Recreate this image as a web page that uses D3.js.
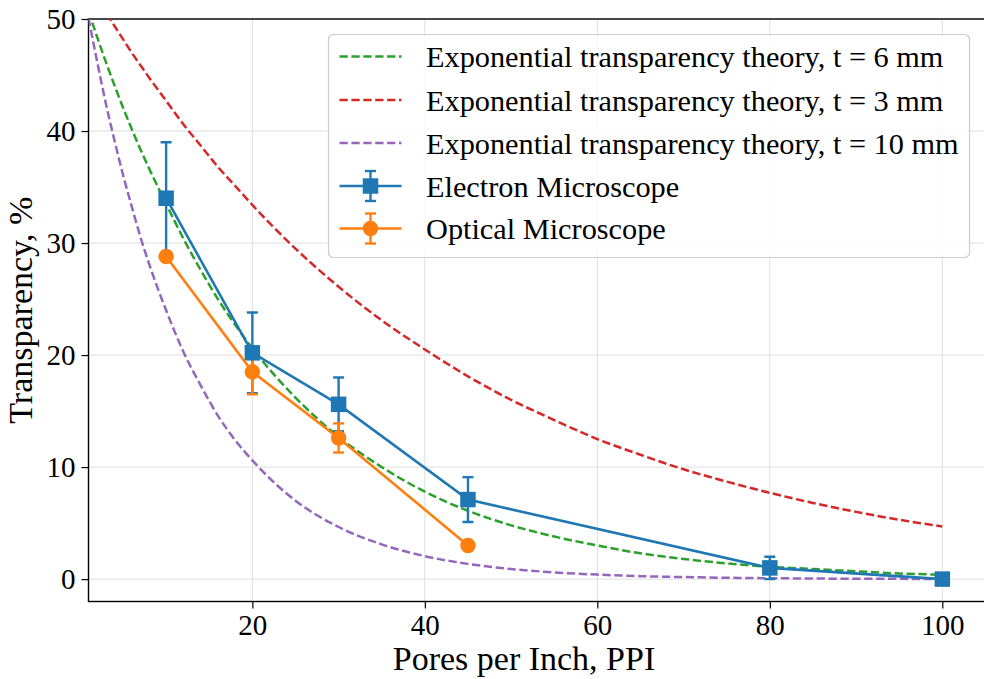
<!DOCTYPE html>
<html>
<head>
<meta charset="utf-8">
<script src="https://cdn.jsdelivr.net/npm/d3@7/dist/d3.min.js"></script>
<style>
  html, body { margin: 0; padding: 0; background: #ffffff; }
  svg { display: block; }
  text { font-family: "Liberation Serif", "Times New Roman", serif; fill: #000; }
</style>
</head>
<body>
<svg id="chart" width="984" height="679"></svg>
<script>
// Theory curves, sampled along the PPI axis
const ppiTheory   = [1, 2, 3, 4, 5, 6, 7, 8, 10, 12, 14, 16, 18, 20, 25, 30, 35, 40, 45, 50, 55, 60, 65, 70, 75, 80, 85, 90, 95, 100];
const theory6mm   = [50.7, 48.4, 46.2, 44.1, 42.1, 40.2, 38.4, 36.7, 33.5, 30.4, 27.6, 25.0, 22.7, 20.6, 16.2, 12.7, 10.0, 7.8, 6.1, 4.8, 3.8, 3.0, 2.3, 1.8, 1.4, 1.1, 0.9, 0.7, 0.5, 0.4];
const theory3mm   = [53.2, 51.9, 50.6, 49.4, 48.2, 47.0, 45.9, 44.8, 42.7, 40.6, 38.7, 36.8, 35.1, 33.4, 29.5, 26.1, 23.1, 20.5, 18.1, 16.0, 14.2, 12.5, 11.1, 9.8, 8.7, 7.7, 6.8, 6.0, 5.3, 4.7];
const theory10mm  = [50.1, 46.2, 42.5, 39.2, 36.1, 33.3, 30.6, 28.2, 24.0, 20.3, 17.3, 14.6, 12.4, 10.6, 7.0, 4.65, 3.1, 2.05, 1.36, 0.9, 0.6, 0.4, 0.26, 0.18, 0.12, 0.08, 0.05, 0.03, 0.02, 0.01];

// Measurements
const ppiElectron   = [10, 20, 30, 45, 80, 100];
const electronValue = [34.0, 20.2, 15.6, 7.1, 1.0, 0.0];
const electronError = [5.0, 3.6, 2.4, 2.0, 1.0, 0.0];

const ppiOptical   = [10, 20, 30, 45];
const opticalValue = [28.8, 18.5, 12.6, 3.0];
const opticalError = [0.3, 2.0, 1.3, 0.3];

// Axes
const xTicks = [20, 40, 60, 80, 100];
const yTicks = [0, 10, 20, 30, 40, 50];
const xDomain = [1, 104.95];
const yDomain = [-2, 50];

const legendLabels = [
  "Exponential transparency theory, t = 6 mm",
  "Exponential transparency theory, t = 3 mm",
  "Exponential transparency theory, t = 10 mm",
  "Electron Microscope",
  "Optical Microscope"
];

const C = { blue: "#1f77b4", orange: "#ff7f0e", green: "#2ca02c", red: "#d62728", purple: "#9467bd" };
const SERIF = "'Liberation Serif', 'Times New Roman', serif";

const plot = { left: 88.5, right: 985, top: 19, bottom: 601.5 };

const svg = d3.select("#chart");
const x = d3.scaleLinear().domain(xDomain).range([plot.left, plot.right]);
const y = d3.scaleLinear().domain(yDomain).range([plot.bottom, plot.top]);

svg.append("defs").append("clipPath").attr("id", "plot-clip")
  .append("rect")
  .attr("x", plot.left).attr("y", plot.top)
  .attr("width", plot.right - plot.left).attr("height", plot.bottom - plot.top);

// Grid
const grid = svg.append("g").attr("stroke", "#dedede").attr("stroke-width", 1);
grid.selectAll("line.gx").data(xTicks).join("line")
  .attr("x1", d => x(d)).attr("x2", d => x(d))
  .attr("y1", plot.top).attr("y2", plot.bottom);
grid.selectAll("line.gy").data(yTicks).join("line")
  .attr("x1", plot.left).attr("x2", plot.right)
  .attr("y1", d => y(d)).attr("y2", d => y(d));

// Axes with D3 axis generators
const fontTick = 29;
const xAxis = svg.append("g")
  .attr("transform", `translate(0,${plot.bottom})`)
  .call(d3.axisBottom(x).tickValues(xTicks).tickSize(7).tickPadding(6));
const yAxis = svg.append("g")
  .attr("transform", `translate(${plot.left},0)`)
  .call(d3.axisLeft(y).tickValues(yTicks).tickSize(7).tickPadding(6));
[xAxis, yAxis].forEach(g => {
  g.attr("font-family", SERIF).attr("font-size", fontTick);
  g.select(".domain").remove();
  g.selectAll(".tick line").attr("stroke", "#000").attr("stroke-width", 1.2);
  g.selectAll(".tick text").attr("font-family", SERIF).attr("font-size", fontTick).attr("fill", "#000");
});

// Spines
const spines = svg.append("g").attr("stroke", "#000").attr("stroke-width", 1.4).attr("fill", "none");
spines.append("rect")
  .attr("x", plot.left).attr("y", plot.top)
  .attr("width", plot.right - plot.left).attr("height", plot.bottom - plot.top);

// Axis labels
svg.append("text")
  .attr("x", 524).attr("y", 670)
  .attr("text-anchor", "middle").style("font-size", "34px")
  .text("Pores per Inch, PPI");
svg.append("text")
  .attr("transform", `translate(32,${(plot.top + plot.bottom) / 2}) rotate(-90)`)
  .attr("text-anchor", "middle").style("font-size", "34px")
  .text("Transparency, %");

// Plot content
const area = svg.append("g").attr("clip-path", "url(#plot-clip)");

const theoryLine = d3.line()
  .x(d => x(d[0])).y(d => y(d[1]))
  .curve(d3.curveMonotoneX);

const dash = "8.3,3.6";
[[theory6mm, C.green], [theory3mm, C.red], [theory10mm, C.purple]].forEach(([vals, col]) => {
  area.append("path")
    .datum(ppiTheory.map((p, i) => [p, vals[i]]))
    .attr("d", theoryLine)
    .attr("fill", "none").attr("stroke", col)
    .attr("stroke-width", 2.5).attr("stroke-dasharray", dash);
});

const capHalf = 5.5;
function errorBars(g, xs, vs, es, col) {
  xs.forEach((p, i) => {
    if (es[i] <= 0) return;
    const cx = x(p), top = y(vs[i] + es[i]), bot = y(vs[i] - es[i]);
    g.append("line").attr("x1", cx).attr("x2", cx).attr("y1", top).attr("y2", bot)
      .attr("stroke", col).attr("stroke-width", 2.4);
    [top, bot].forEach(yy => g.append("line")
      .attr("x1", cx - capHalf).attr("x2", cx + capHalf).attr("y1", yy).attr("y2", yy)
      .attr("stroke", col).attr("stroke-width", 2.4));
  });
}
// Error bars sit beneath the data lines and markers of both series
errorBars(area, ppiElectron, electronValue, electronError, C.blue);
errorBars(area, ppiOptical, opticalValue, opticalError, C.orange);

const dataLine = d3.line().x(d => x(d[0])).y(d => y(d[1]));
const msz = 15.5;

area.append("path")
  .datum(ppiElectron.map((p, i) => [p, electronValue[i]]))
  .attr("d", dataLine).attr("fill", "none").attr("stroke", C.blue).attr("stroke-width", 2.6);
area.selectAll("rect.em").data(ppiElectron.map((p, i) => [p, electronValue[i]])).join("rect")
  .attr("x", d => x(d[0]) - msz / 2).attr("y", d => y(d[1]) - msz / 2)
  .attr("width", msz).attr("height", msz).attr("fill", C.blue);

area.append("path")
  .datum(ppiOptical.map((p, i) => [p, opticalValue[i]]))
  .attr("d", dataLine).attr("fill", "none").attr("stroke", C.orange).attr("stroke-width", 2.6);
area.selectAll("circle.om").data(ppiOptical.map((p, i) => [p, opticalValue[i]])).join("circle")
  .attr("cx", d => x(d[0])).attr("cy", d => y(d[1]))
  .attr("r", msz / 2).attr("fill", C.orange);

// Legend
const lg = svg.append("g");
lg.append("rect")
  .attr("x", 328.5).attr("y", 34.5).attr("width", 641).attr("height", 223)
  .attr("rx", 5).attr("ry", 5)
  .attr("fill", "#ffffff").attr("fill-opacity", 0.8)
  .attr("stroke", "#cccccc").attr("stroke-width", 1.2);

const rowY = [56.5, 100, 143, 186, 228.5];
const hx0 = 339.5, hx1 = 401.5, hxc = (hx0 + hx1) / 2;
const legendStyles = [
  { col: C.green, kind: "dash" },
  { col: C.red, kind: "dash" },
  { col: C.purple, kind: "dash" },
  { col: C.blue, kind: "square" },
  { col: C.orange, kind: "circle" }
];
legendStyles.forEach((s, i) => {
  const ry = rowY[i];
  if (s.kind === "dash") {
    lg.append("line").attr("x1", hx0).attr("x2", hx1).attr("y1", ry).attr("y2", ry)
      .attr("stroke", s.col).attr("stroke-width", 2.5).attr("stroke-dasharray", dash);
  } else {
    lg.append("line").attr("x1", hxc).attr("x2", hxc).attr("y1", ry - 15).attr("y2", ry + 15)
      .attr("stroke", s.col).attr("stroke-width", 2.4);
    [ry - 15, ry + 15].forEach(yy => lg.append("line")
      .attr("x1", hxc - capHalf).attr("x2", hxc + capHalf).attr("y1", yy).attr("y2", yy)
      .attr("stroke", s.col).attr("stroke-width", 2.4));
    lg.append("line").attr("x1", hx0).attr("x2", hx1).attr("y1", ry).attr("y2", ry)
      .attr("stroke", s.col).attr("stroke-width", 2.6);
    if (s.kind === "square") {
      lg.append("rect").attr("x", hxc - msz / 2).attr("y", ry - msz / 2)
        .attr("width", msz).attr("height", msz).attr("fill", s.col);
    } else {
      lg.append("circle").attr("cx", hxc).attr("cy", ry).attr("r", msz / 2).attr("fill", s.col);
    }
  }
  lg.append("text").attr("x", 426).attr("y", ry).attr("dy", "0.35em")
    .style("font-size", "30.3px").text(legendLabels[i]);
});
</script>
</body>
</html>
